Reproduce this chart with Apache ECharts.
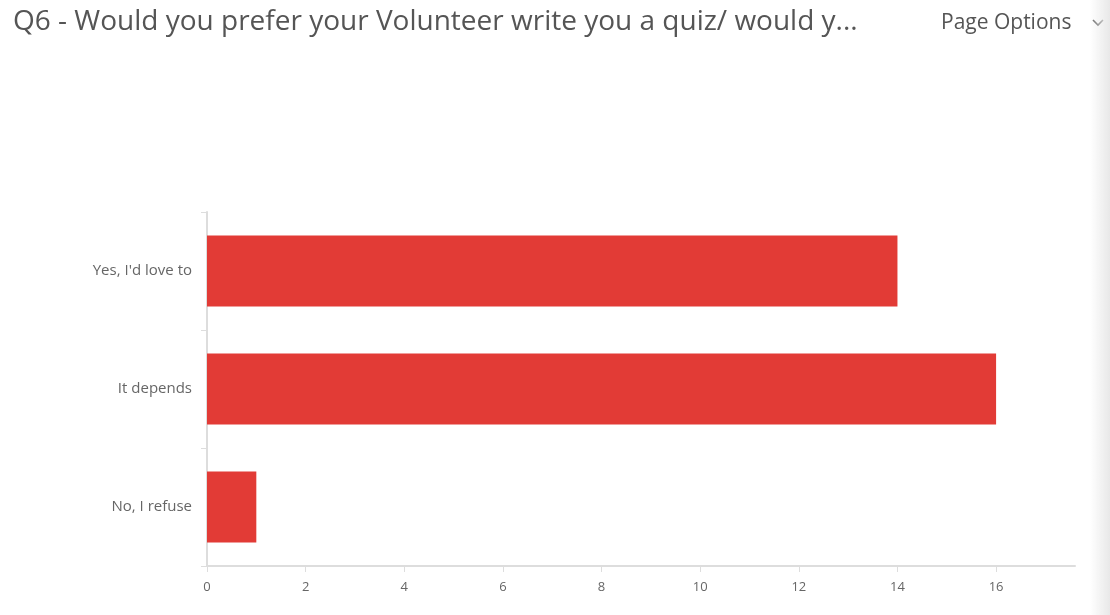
<!DOCTYPE html>
<html><head><meta charset="utf-8">
<script src="https://cdn.jsdelivr.net/npm/echarts@6/dist/echarts.min.js"></script>
<style>
html,body{margin:0;padding:0;background:#fff;}
#c{width:1110px;height:615px;}
#edge{position:absolute;left:1090px;top:0;width:20px;height:615px;background:linear-gradient(to right,rgba(240,240,240,0),#e8e8e8);pointer-events:none;}
</style></head>
<body><div id="c"></div><div id="edge"></div>
<script>
const titleText = "Q6 - Would you prefer your Volunteer write you a quiz/ would y...";
const categories = ["Yes, I'd love to", "It depends", "No, I refuse"];
const values = [14, 16, 1];
const tickValues = [0, 2, 4, 6, 8, 10, 12, 14, 16];

const chart = echarts.init(document.getElementById('c'));
chart.setOption({
  animation: false,
  title: [
    { text: titleText, left: 8, top: 3, textStyle: { fontFamily: 'Open Sans', fontSize: 28, fontWeight: 'normal', color: '#555' } },
    { text: 'Page Options', left: 936, top: 8, textStyle: { fontFamily: 'Open Sans', fontSize: 21, fontWeight: 'normal', color: '#555' } }
  ],
  graphic: [{
    type: 'polyline', z: 100,
    shape: { points: [[1093, 20], [1098, 25], [1103, 20]] },
    style: { stroke: '#666', lineWidth: 1.6, fill: null }
  }],
  grid: { left: 207, right: 35, top: 212, bottom: 49, containLabel: false },
  xAxis: {
    type: 'value', min: 0, max: 17.6,
    splitLine: { show: false },
    axisLine: { show: true, lineStyle: { color: '#ddd', width: 2 } },
    axisTick: { show: true, length: 6, lineStyle: { color: '#ddd' }, customValues: tickValues },
    axisLabel: { color: '#666', fontSize: 13, fontFamily: 'Open Sans', margin: 15, customValues: tickValues }
  },
  yAxis: {
    type: 'category', data: categories, inverse: true,
    axisLine: { show: true, lineStyle: { color: '#ddd', width: 2 } },
    axisTick: { show: true, length: 6, lineStyle: { color: '#ddd' } },
    axisLabel: { color: '#666', fontSize: 15, fontFamily: 'Open Sans', margin: 15 }
  },
  series: [{
    type: 'bar', data: values, barCategoryGap: '40%',
    itemStyle: { color: '#e23b36' }
  }]
});
</script></body></html>
